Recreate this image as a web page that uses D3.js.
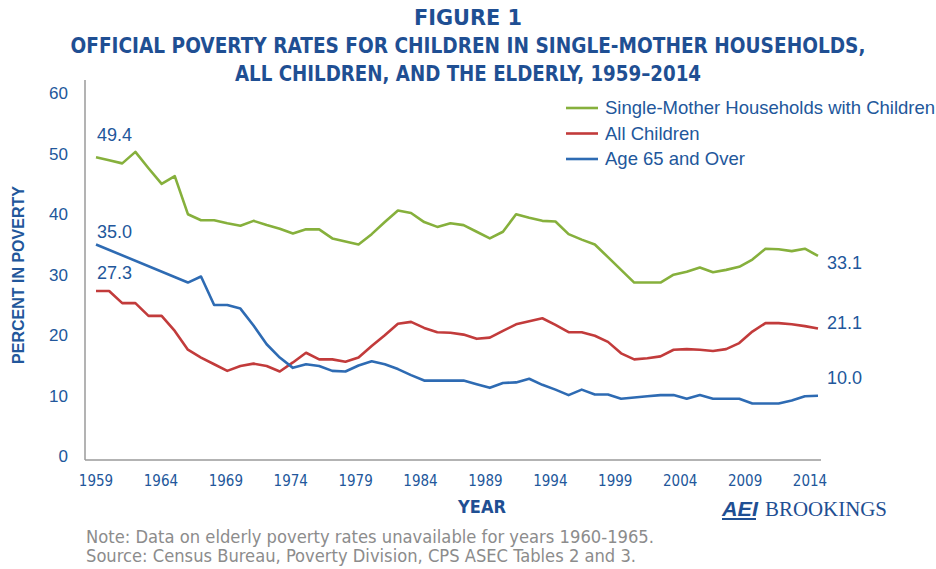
<!DOCTYPE html>
<html>
<head>
<meta charset="utf-8">
<title>Figure 1</title>
<script src="https://d3js.org/d3.v7.min.js"></script>
<style>
  body { margin: 0; background: #fff; }
  svg text { font-family: "Liberation Sans", Arial, sans-serif; }
  .title { font-family: "Liberation Sans Narrow", "DejaVu Sans Condensed", sans-serif; font-weight: bold; fill: #1f4f93; font-size: 22px; }
  .narrow { font-family: "Liberation Sans Narrow", "DejaVu Sans Condensed", sans-serif; }
</style>
</head>
<body>
<script>
// data (percent in poverty)
var years = d3.range(1959, 2015);

var singleMother = [49.4, 48.9, 48.4, 50.3, 47.6, 45.0, 46.3, 40.0, 39.0, 39.0,
  38.5, 38.1, 38.9, 38.2, 37.6, 36.8, 37.5, 37.5, 36.0, 35.5,
  35.0, 36.7, 38.7, 40.6, 40.2, 38.7, 37.9, 38.5, 38.2, 37.1,
  36.0, 37.1, 40.0, 39.4, 38.9, 38.8, 36.7, 35.8, 35.0, 32.9,
  30.8, 28.7, 28.7, 28.7, 30.0, 30.5, 31.2, 30.4, 30.8, 31.3,
  32.5, 34.3, 34.2, 33.9, 34.3, 33.1];

var allChildren = [27.3, 27.3, 25.3, 25.3, 23.2, 23.2, 20.7, 17.6, 16.3, 15.2,
  14.1, 14.9, 15.3, 14.9, 14.0, 15.5, 17.1, 16.0, 16.0, 15.6,
  16.3, 18.2, 20.0, 21.9, 22.2, 21.2, 20.5, 20.4, 20.1, 19.4,
  19.6, 20.7, 21.8, 22.3, 22.8, 21.7, 20.5, 20.5, 19.9, 18.9,
  17.0, 16.0, 16.2, 16.5, 17.6, 17.7, 17.6, 17.4, 17.7, 18.7,
  20.6, 22.0, 22.0, 21.8, 21.5, 21.1];

// no elderly data for 1960-1965
var elderly = [35.0, null, null, null, null, null, null, 28.7, 29.7, 25.0,
  25.0, 24.4, 21.6, 18.5, 16.3, 14.6, 15.2, 14.9, 14.1, 14.0,
  15.0, 15.7, 15.2, 14.4, 13.4, 12.5, 12.5, 12.5, 12.5, 11.9,
  11.3, 12.1, 12.2, 12.8, 11.8, 11.0, 10.1, 11.0, 10.2, 10.2,
  9.5, 9.7, 9.9, 10.1, 10.1, 9.5, 10.1, 9.5, 9.5, 9.5,
  8.7, 8.7, 8.7, 9.2, 9.9, 10.0];

var seriesNames = ["Single-Mother Households with Children", "All Children", "Age 65 and Over"];
var seriesColors = ["#86b03c", "#c23b3b", "#2e6bb3"];
var xTickLabels = ["1959", "1964", "1969", "1974", "1979", "1984", "1989", "1994", "1999", "2004", "2009", "2014"];
var yTicks = [0, 10, 20, 30, 40, 50, 60];

var W = 936, H = 569;
var textBlue = "#22579b";

var svg = d3.select("body").append("svg")
  .attr("width", W)
  .attr("height", H);

var x = d3.scaleLinear().domain([1959, 2014]).range([96, 818]);
var y = d3.scaleLinear().domain([0, 60]).range([456.2, 93.2]);
// the printed year labels are spaced a little tighter than the data
var xLab = d3.scalePoint().domain(xTickLabels).range([96, 810]);

// title
var titleLines = ["FIGURE 1",
  "OFFICIAL POVERTY RATES FOR CHILDREN IN SINGLE-MOTHER HOUSEHOLDS,",
  "ALL CHILDREN, AND THE ELDERLY, 1959\u20132014"];
var titleWidths = [108, 795, 466];
svg.selectAll(".title").data(titleLines).enter().append("text")
  .attr("class", "title")
  .attr("x", 468)
  .attr("y", function(d, i) { return 25 + i * 28; })
  .attr("text-anchor", "middle")
  .attr("textLength", function(d, i) { return titleWidths[i]; })
  .attr("lengthAdjust", "spacingAndGlyphs")
  .text(function(d) { return d; });

// axis frame
svg.append("line").attr("x1", 85).attr("x2", 85).attr("y1", 80).attr("y2", 460)
  .attr("stroke", "#9a9a9a").attr("stroke-width", 1.5);
svg.append("line").attr("x1", 85).attr("x2", 821).attr("y1", 460).attr("y2", 460)
  .attr("stroke", "#9a9a9a").attr("stroke-width", 1.5);

// y tick labels
svg.selectAll(".ytick").data(yTicks).enter().append("text")
  .attr("class", "ytick")
  .attr("x", 68)
  .attr("y", function(d) { return y(d) + 6; })
  .attr("text-anchor", "end")
  .attr("fill", textBlue)
  .style("font-size", "17px")
  .text(function(d) { return d; });

// x tick labels
svg.selectAll(".xtick").data(xTickLabels).enter().append("text")
  .attr("class", "xtick narrow")
  .attr("x", function(d) { return xLab(d); })
  .attr("y", 486)
  .attr("text-anchor", "middle")
  .attr("fill", textBlue)
  .style("font-size", "15px")
  .text(function(d) { return d; });

// axis titles
svg.append("text")
  .attr("transform", "translate(24,275) rotate(-90)")
  .attr("text-anchor", "middle")
  .attr("fill", textBlue)
  .style("font-size", "16px")
  .style("font-weight", "bold")
  .text("PERCENT IN POVERTY");

svg.append("text")
  .attr("class", "narrow")
  .attr("x", 482)
  .attr("y", 513)
  .attr("text-anchor", "middle")
  .attr("fill", "#1f4f93")
  .style("font-size", "18px")
  .style("font-weight", "bold")
  .text("YEAR");

// lines
var allSeries = [singleMother, allChildren, elderly];
var line = d3.line()
  .x(function(d) { return x(d.year); })
  .y(function(d) { return y(d.value); });

allSeries.forEach(function(vals, i) {
  var pts = years.map(function(yr, j) { return { year: yr, value: vals[j] }; })
    .filter(function(d) { return d.value !== null; });
  svg.append("path")
    .datum(pts)
    .attr("d", line)
    .attr("fill", "none")
    .attr("stroke", seriesColors[i])
    .attr("stroke-width", 2.6)
    .attr("stroke-linejoin", "round");
});

// start and end value labels
var startOffsets = [-16, -12, -6];
var endOffsets = [13, 0, -12];
allSeries.forEach(function(vals, i) {
  svg.append("text")
    .attr("x", x(1959) + 1)
    .attr("y", y(vals[0]) + startOffsets[i])
    .attr("fill", textBlue)
    .style("font-size", "18px")
    .text(d3.format(".1f")(vals[0]));
  svg.append("text")
    .attr("x", x(2014) + 9)
    .attr("y", y(vals[vals.length - 1]) + endOffsets[i])
    .attr("fill", textBlue)
    .style("font-size", "18px")
    .text(d3.format(".1f")(vals[vals.length - 1]));
});

// legend
var legend = svg.append("g").attr("transform", "translate(566,108)");
seriesNames.forEach(function(name, i) {
  var g = legend.append("g").attr("transform", "translate(0," + (i * 25.5) + ")");
  g.append("line").attr("x1", 0).attr("x2", 32).attr("y1", 0).attr("y2", 0)
    .attr("stroke", seriesColors[i]).attr("stroke-width", 2.6);
  g.append("text")
    .attr("x", 39)
    .attr("y", 6)
    .attr("fill", textBlue)
    .style("font-size", "18.5px")
    .text(name);
});

// logo
svg.append("text")
  .attr("x", 722)
  .attr("y", 516)
  .attr("fill", "#1f4f93")
  .style("font-size", "20px")
  .style("font-weight", "bold")
  .style("font-style", "italic")
  .attr("textLength", 36)
  .attr("lengthAdjust", "spacingAndGlyphs")
  .text("AEI");
svg.append("line").attr("x1", 722).attr("x2", 756).attr("y1", 519).attr("y2", 519)
  .attr("stroke", "#1f4f93").attr("stroke-width", 2);
svg.append("text")
  .attr("x", 765)
  .attr("y", 516)
  .attr("fill", "#1f4f93")
  .style("font-family", "'Liberation Serif', serif")
  .style("font-size", "20px")
  .attr("textLength", 122)
  .attr("lengthAdjust", "spacingAndGlyphs")
  .text("BROOKINGS");

// notes
var notes = ["Note: Data on elderly poverty rates unavailable for years 1960-1965.",
  "Source: Census Bureau, Poverty Division, CPS ASEC Tables 2 and 3."];
var noteWidths = [568, 550];
svg.selectAll(".note").data(notes).enter().append("text")
  .attr("class", "note narrow")
  .attr("x", 86)
  .attr("y", function(d, i) { return 543 + i * 19; })
  .attr("fill", "#8c8c8c")
  .style("font-size", "17px")
  .attr("textLength", function(d, i) { return noteWidths[i]; })
  .attr("lengthAdjust", "spacingAndGlyphs")
  .text(function(d) { return d; });
</script>
</body>
</html>
